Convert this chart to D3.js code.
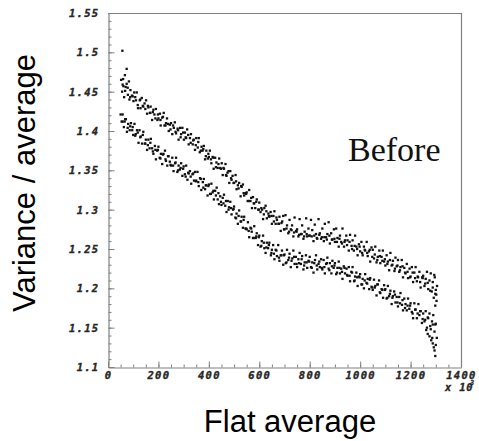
<!DOCTYPE html>
<html>
<head>
<meta charset="utf-8">
<script src="https://cdn.jsdelivr.net/npm/d3@7/dist/d3.min.js"></script>
<style>
  html, body { margin: 0; padding: 0; background: #fff; }
  svg { display: block; }
  .tick-label { font-family: "DejaVu Sans Mono", monospace; font-weight: bold; font-style: italic; font-size: 10.5px; fill: #262626; stroke: #262626; stroke-width: 0.35px; letter-spacing: 1.3px; }
</style>
</head>
<body>
<svg id="chart" width="479" height="441"></svg>
<script>
// Axis ticks
const xMajor = [0, 200, 400, 600, 800, 1000, 1200, 1400];
const xLabels = ["0", "200", "400", "600", "800", "1000", "1200", "1400"];
const yMajor = [1.1, 1.15, 1.2, 1.25, 1.3, 1.35, 1.4, 1.45, 1.5, 1.55];
const yLabels = ["1.1", "1.15", "1.2", "1.25", "1.3", "1.35", "1.4", "1.45", "1.5", "1.55"];

// Upper band: [flat average (x10^3), variance / average]
const upperBand = [
  [57,1.502],[74,1.479],[67,1.471],[60,1.466],[83,1.463],
  [52,1.465],[56,1.450],[61,1.457],[64,1.443],[70,1.456],[74,1.460],[79,1.446],[85,1.440],[89,1.452],[95,1.445],
  [101,1.438],[104,1.449],[111,1.439],[114,1.449],[119,1.429],[126,1.439],[129,1.429],[134,1.442],[140,1.431],[145,1.435],
  [151,1.439],[155,1.422],[160,1.430],[166,1.423],[169,1.431],[175,1.414],[180,1.427],[184,1.421],[190,1.428],[196,1.414],
  [200,1.416],[206,1.422],[209,1.407],[215,1.417],[221,1.423],[224,1.407],[230,1.410],[234,1.416],[241,1.400],[245,1.408],
  [250,1.410],[255,1.396],[261,1.404],[265,1.411],[270,1.397],[276,1.403],[280,1.389],[286,1.404],[290,1.396],[295,1.404],
  [301,1.389],[305,1.398],[310,1.391],[314,1.402],[320,1.383],[325,1.391],[329,1.396],[336,1.383],[340,1.389],[345,1.376],
  [350,1.391],[356,1.379],[360,1.391],[364,1.373],[371,1.380],[375,1.375],[380,1.381],[385,1.364],[390,1.375],[396,1.365],
  [400,1.367],[404,1.375],[410,1.359],[415,1.367],[419,1.352],[425,1.366],[430,1.360],[435,1.353],[441,1.365],[445,1.353],
  [451,1.359],[455,1.344],[460,1.352],[466,1.358],[470,1.343],[474,1.347],[481,1.334],[485,1.349],[490,1.338],[494,1.343],
  [500,1.334],[506,1.344],[510,1.326],[515,1.331],[520,1.334],[526,1.317],[530,1.329],[535,1.332],[540,1.318],[546,1.321],
  [550,1.322],[554,1.311],[560,1.325],[565,1.311],[571,1.302],[575,1.316],[580,1.308],[584,1.302],[590,1.313],[596,1.300],
  [600,1.309],[605,1.297],[611,1.300],[615,1.288],[620,1.302],[625,1.305],[630,1.289],[636,1.295],[640,1.291],[645,1.297],
  [650,1.282],[656,1.292],[660,1.298],[665,1.282],[670,1.287],[676,1.282],[680,1.291],[685,1.273],[691,1.285],[695,1.292],
  [700,1.275],[704,1.293],[710,1.280],[715,1.270],[720,1.287],[725,1.275],[730,1.280],[735,1.266],[740,1.290],[746,1.273],
  [750,1.275],[755,1.266],[760,1.288],[765,1.269],[770,1.280],[775,1.263],[780,1.272],[786,1.289],[790,1.266],[795,1.276],
  [800,1.267],[805,1.287],[810,1.274],[815,1.260],[820,1.281],[825,1.269],[830,1.263],[835,1.288],[840,1.270],[845,1.263],
  [850,1.276],[856,1.260],[860,1.282],[865,1.265],[870,1.269],[875,1.284],[880,1.257],[885,1.270],[890,1.262],[896,1.275],
  [900,1.259],[905,1.276],[910,1.264],[915,1.253],[920,1.267],[925,1.259],[930,1.276],[936,1.253],[940,1.261],[945,1.267],
  [950,1.261],[955,1.248],[960,1.268],[966,1.254],[970,1.261],[975,1.248],[980,1.267],[985,1.253],[990,1.242],[995,1.256],
  [1000,1.247],[1005,1.259],[1010,1.242],[1015,1.253],[1020,1.248],[1026,1.259],[1030,1.241],[1035,1.247],[1040,1.234],[1045,1.252],
  [1050,1.249],[1055,1.238],[1060,1.253],[1065,1.233],[1070,1.240],[1076,1.248],[1080,1.232],[1085,1.240],[1090,1.248],[1095,1.234],
  [1100,1.229],[1105,1.242],[1110,1.234],[1115,1.223],[1120,1.245],[1125,1.229],[1130,1.235],[1136,1.222],[1140,1.239],[1145,1.228],
  [1150,1.236],[1155,1.221],[1160,1.227],[1165,1.236],[1170,1.214],[1175,1.226],[1180,1.219],[1185,1.231],[1190,1.213],[1196,1.225],
  [1200,1.215],[1205,1.227],[1210,1.208],[1215,1.220],[1220,1.227],[1225,1.209],[1230,1.214],[1235,1.221],[1240,1.201],[1246,1.214],
  [1250,1.216],[1255,1.203],[1260,1.212],[1265,1.221],[1270,1.199],[1275,1.210],[1280,1.219],[1284,1.196],[1288,1.208],[1292,1.188],
  [1296,1.214],[1300,1.198],[1303,1.184],[1305,1.203],[1298,1.178],[1302,1.192],[1294,1.217]
];

// Upper band, points packed near its core
const upperCore = [
  [58,1.459],[68,1.451],[78,1.455],[88,1.443],[98,1.444],[108,1.443],[118,1.433],[128,1.440],[138,1.432],[148,1.428],
  [158,1.432],[168,1.423],[178,1.424],[188,1.416],[198,1.421],[208,1.414],[218,1.418],[228,1.407],[238,1.409],[248,1.402],
  [258,1.407],[268,1.399],[278,1.401],[288,1.392],[298,1.398],[308,1.392],[318,1.395],[328,1.385],[338,1.388],[348,1.382],
  [358,1.386],[368,1.375],[378,1.377],[388,1.368],[398,1.371],[408,1.364],[418,1.366],[428,1.354],[438,1.358],[448,1.352],
  [458,1.353],[468,1.344],[478,1.349],[488,1.340],[498,1.334],[508,1.336],[518,1.327],[528,1.330],[538,1.321],[548,1.320],
  [558,1.311],[568,1.315],[578,1.308],[588,1.310],[598,1.300],[608,1.302],[618,1.294],[628,1.298],[638,1.292],[648,1.292],
  [658,1.285],[668,1.290],[678,1.282],[688,1.283],[698,1.275],[708,1.276],[718,1.272],[728,1.274],[738,1.271],[748,1.272],
  [758,1.268],[768,1.269],[778,1.266],[788,1.269],[798,1.267],[808,1.266],[818,1.267],[828,1.264],[838,1.268],[848,1.265],
  [858,1.265],[868,1.262],[878,1.267],[888,1.262],[898,1.263],[908,1.259],[918,1.263],[928,1.257],[938,1.259],[948,1.255],
  [958,1.259],[968,1.250],[978,1.254],[988,1.250],[998,1.253],[1008,1.245],[1018,1.249],[1028,1.245],[1038,1.249],[1048,1.240],
  [1058,1.243],[1068,1.236],[1078,1.241],[1088,1.235],[1098,1.237],[1108,1.231],[1118,1.236],[1128,1.230],[1138,1.225],[1148,1.229],
  [1158,1.223],[1168,1.228],[1178,1.220],[1188,1.221],[1198,1.214],[1208,1.220],[1218,1.213],[1228,1.215],[1238,1.208],[1248,1.213],
  [1258,1.206],[1268,1.207],[1278,1.197],[1288,1.201],[1298,1.193]
];

// Lower band
const lowerBand = [
  [50,1.421],[54,1.412],[58,1.421],[63,1.405],[66,1.412],[71,1.415],[75,1.399],[80,1.409],[86,1.401],[91,1.410],[96,1.401],
  [100,1.395],[105,1.409],[110,1.396],[115,1.401],[121,1.385],[125,1.401],[130,1.393],[135,1.384],[140,1.399],[146,1.384],
  [150,1.389],[155,1.376],[160,1.389],[165,1.378],[170,1.390],[175,1.378],[180,1.371],[186,1.381],[190,1.364],[195,1.375],
  [200,1.380],[205,1.366],[210,1.371],[215,1.358],[220,1.371],[226,1.375],[230,1.362],[235,1.356],[240,1.368],[245,1.361],
  [250,1.356],[255,1.366],[260,1.349],[266,1.359],[270,1.366],[275,1.348],[280,1.356],[285,1.351],[290,1.359],[295,1.343],
  [300,1.355],[305,1.345],[310,1.356],[315,1.338],[320,1.346],[325,1.349],[330,1.333],[335,1.345],[341,1.337],[345,1.348],
  [350,1.337],[355,1.348],[360,1.330],[365,1.340],[370,1.325],[376,1.335],[380,1.339],[385,1.326],[390,1.331],[395,1.318],
  [400,1.332],[405,1.320],[410,1.333],[415,1.322],[420,1.313],[425,1.324],[431,1.328],[435,1.313],[440,1.307],[445,1.317],
  [450,1.306],[455,1.315],[460,1.319],[465,1.305],[470,1.297],[475,1.311],[480,1.303],[485,1.310],[490,1.294],[496,1.300],
  [500,1.304],[505,1.290],[510,1.295],[515,1.282],[520,1.299],[526,1.285],[530,1.291],[535,1.277],[540,1.291],[545,1.276],
  [550,1.275],[555,1.284],[560,1.265],[565,1.277],[570,1.272],[575,1.264],[580,1.279],[586,1.264],[590,1.270],[595,1.255],
  [600,1.267],[605,1.253],[610,1.260],[615,1.267],[620,1.251],[625,1.245],[630,1.258],[635,1.251],[640,1.258],[646,1.242],
  [650,1.249],[655,1.255],[660,1.237],[665,1.249],[670,1.241],[675,1.255],[680,1.235],[685,1.242],[690,1.248],[695,1.230],
  [700,1.243],[705,1.232],[710,1.249],[715,1.236],[720,1.244],[725,1.227],[731,1.238],[735,1.248],[740,1.231],[745,1.240],
  [750,1.227],[755,1.237],[760,1.245],[765,1.231],[770,1.241],[775,1.224],[780,1.233],[785,1.242],[790,1.226],[795,1.235],
  [800,1.240],[805,1.227],[810,1.233],[815,1.220],[821,1.236],[825,1.242],[830,1.224],[835,1.231],[840,1.227],[845,1.237],
  [850,1.224],[855,1.236],[860,1.219],[865,1.231],[870,1.239],[875,1.225],[880,1.232],[886,1.219],[890,1.235],[895,1.226],
  [900,1.232],[905,1.218],[910,1.226],[915,1.234],[920,1.219],[925,1.225],[930,1.212],[935,1.228],[940,1.219],[946,1.225],
  [950,1.216],[955,1.227],[960,1.209],[965,1.221],[970,1.227],[976,1.209],[980,1.215],[985,1.220],[990,1.203],[995,1.215],
  [1000,1.218],[1005,1.205],[1010,1.212],[1015,1.200],[1020,1.218],[1025,1.207],[1030,1.212],[1036,1.199],[1040,1.213],[1045,1.202],
  [1050,1.198],[1055,1.211],[1060,1.203],[1065,1.191],[1070,1.205],[1075,1.210],[1080,1.194],[1085,1.199],[1091,1.188],[1095,1.204],
  [1100,1.199],[1105,1.187],[1110,1.203],[1115,1.190],[1120,1.197],[1125,1.180],[1130,1.190],[1135,1.196],[1140,1.182],[1145,1.189],
  [1150,1.177],[1155,1.189],[1160,1.194],[1166,1.179],[1170,1.172],[1175,1.187],[1180,1.180],[1185,1.172],[1190,1.187],[1195,1.174],
  [1200,1.181],[1205,1.170],[1210,1.162],[1215,1.181],[1220,1.173],[1225,1.162],[1231,1.180],[1235,1.166],[1240,1.171],[1245,1.156],
  [1250,1.168],[1255,1.158],[1260,1.171],[1265,1.150],[1270,1.162],[1275,1.168],[1280,1.148],[1285,1.158],[1290,1.166],[1295,1.145],
  [1300,1.155],[1304,1.137],
  [1262,1.147],[1268,1.142],[1275,1.139],[1282,1.134],[1288,1.130],[1292,1.125],[1295,1.121],[1298,1.114],[1286,1.137],[1300,1.128]
];

// Lower band, points packed near its core
const lowerCore = [
  [58,1.412],[68,1.415],[78,1.404],[88,1.406],[98,1.405],[108,1.394],[118,1.398],[128,1.392],[138,1.395],[148,1.384],
  [158,1.382],[168,1.385],[178,1.374],[188,1.376],[198,1.376],[208,1.365],[218,1.370],[228,1.364],[238,1.368],[248,1.357],
  [258,1.356],[268,1.360],[278,1.350],[288,1.353],[298,1.352],[308,1.342],[318,1.347],[328,1.342],[338,1.346],[348,1.336],
  [358,1.335],[368,1.339],[378,1.328],[388,1.331],[398,1.330],[408,1.320],[418,1.324],[428,1.318],[438,1.321],[448,1.310],
  [458,1.308],[468,1.311],[478,1.300],[488,1.302],[498,1.301],[508,1.289],[518,1.292],[528,1.285],[538,1.287],[548,1.276],
  [558,1.273],[568,1.276],[578,1.264],[588,1.266],[598,1.265],[608,1.254],[618,1.258],[628,1.252],[638,1.255],[648,1.245],
  [658,1.244],[668,1.248],[678,1.239],[688,1.242],[698,1.242],[708,1.233],[718,1.239],[728,1.235],[738,1.240],[748,1.231],
  [758,1.232],[768,1.237],[778,1.229],[788,1.233],[798,1.234],[808,1.226],[818,1.232],[828,1.229],[838,1.234],[848,1.226],
  [858,1.227],[868,1.232],[878,1.223],[888,1.228],[898,1.229],[908,1.220],[918,1.226],[928,1.221],[938,1.226],[948,1.217],
  [958,1.216],[968,1.220],[978,1.210],[988,1.214],[998,1.214],[1008,1.205],[1018,1.210],[1028,1.206],[1038,1.211],[1048,1.201],
  [1058,1.201],[1068,1.205],[1078,1.195],[1088,1.198],[1098,1.198],[1108,1.188],[1118,1.193],[1128,1.188],[1138,1.192],[1148,1.182],
  [1158,1.181],[1168,1.185],[1178,1.175],[1188,1.178],[1198,1.178],[1208,1.168],[1218,1.173],[1228,1.168],[1238,1.171],[1248,1.161],
  [1258,1.160],[1268,1.163],[1278,1.152],[1288,1.154],[1298,1.154]
];

const svg = d3.select("#chart");
const plotLeft = 108, plotRight = 461, plotTop = 13, plotBottom = 367;

const x = d3.scaleLinear().domain([0, 1400]).range([plotLeft, plotRight]);
const y = d3.scaleLinear().domain([1.1, 1.55]).range([plotBottom, plotTop]);

const frameColor = "#808080";

// Frame top and right edges
svg.append("line").attr("x1", plotLeft).attr("x2", plotRight + 0.5).attr("y1", plotTop + 0.5).attr("y2", plotTop + 0.5)
  .attr("stroke", frameColor).attr("stroke-width", 1.2);
svg.append("line").attr("x1", plotRight + 0.5).attr("x2", plotRight + 0.5).attr("y1", plotTop).attr("y2", plotBottom)
  .attr("stroke", frameColor).attr("stroke-width", 1.2);

// Minor ticks
const xMinorAxis = d3.axisBottom(x).tickValues(d3.range(0, 1401, 50)).tickSize(-3).tickFormat("");
const yMinorAxis = d3.axisLeft(y).tickValues(d3.range(110, 156, 1).map(v => v / 100)).tickSize(-3).tickFormat("");

svg.append("g").attr("transform", `translate(0,${plotBottom + 0.5})`).call(xMinorAxis)
  .call(g => g.select(".domain").remove())
  .call(g => g.selectAll("line").attr("stroke", frameColor));
svg.append("g").attr("transform", `translate(${plotLeft + 0.5},0)`).call(yMinorAxis)
  .call(g => g.select(".domain").remove())
  .call(g => g.selectAll("line").attr("stroke", frameColor));

// Major ticks and labels
const xAxis = d3.axisBottom(x).tickValues(xMajor).tickSizeInner(-6).tickSizeOuter(0).tickPadding(4)
  .tickFormat((d, i) => xLabels[i]);
const yAxis = d3.axisLeft(y).tickValues(yMajor).tickSizeInner(-6).tickSizeOuter(0).tickPadding(9)
  .tickFormat((d, i) => yLabels[i]);

svg.append("g").attr("transform", `translate(0,${plotBottom + 0.5})`).call(xAxis)
  .call(g => g.select(".domain").attr("stroke", frameColor).attr("stroke-width", 1.2))
  .call(g => g.selectAll("line").attr("stroke", frameColor))
  .call(g => g.selectAll("text").attr("class", "tick-label").attr("font-family", null).attr("font-size", null).attr("fill", null));
svg.append("g").attr("transform", `translate(${plotLeft + 0.5},0)`).call(yAxis)
  .call(g => g.select(".domain").attr("stroke", frameColor).attr("stroke-width", 1.2))
  .call(g => g.selectAll("line").attr("stroke", frameColor))
  .call(g => g.selectAll("text").attr("class", "tick-label").attr("font-family", null).attr("font-size", null).attr("fill", null));

// Exponent marker under the x axis
svg.append("text").attr("class", "tick-label").attr("x", 445).attr("y", 391)
  .style("letter-spacing", "0.8px").text("x 10");
svg.append("text").attr("class", "tick-label").attr("x", 470).attr("y", 385)
  .style("font-size", "7px").style("letter-spacing", "0px").style("stroke-width", "0.2px").text("3");

// Scatter points
const size = 2.3;
const plot = svg.append("g");
[upperBand, upperCore, lowerBand, lowerCore].forEach(band => {
  plot.selectAll(null).data(band).join("rect")
    .attr("x", d => x(d[0]) - size / 2)
    .attr("y", d => y(d[1]) - size / 2)
    .attr("width", size).attr("height", size)
    .attr("fill", "#111");
});

// Annotation and axis titles
svg.append("text").attr("x", 348).attr("y", 161)
  .attr("font-family", "'Liberation Serif', 'Times New Roman', serif").attr("font-size", 34)
  .attr("fill", "#111").text("Before");

svg.append("text").attr("x", 290).attr("y", 432).attr("text-anchor", "middle")
  .attr("font-family", "'Liberation Sans', Arial, sans-serif").attr("font-size", 31)
  .attr("fill", "#000").text("Flat average");

svg.append("text").attr("transform", "translate(35,183) rotate(-90)").attr("text-anchor", "middle")
  .attr("font-family", "'Liberation Sans', Arial, sans-serif").attr("font-size", 31)
  .attr("fill", "#000").text("Variance / average");
</script>
</body>
</html>
